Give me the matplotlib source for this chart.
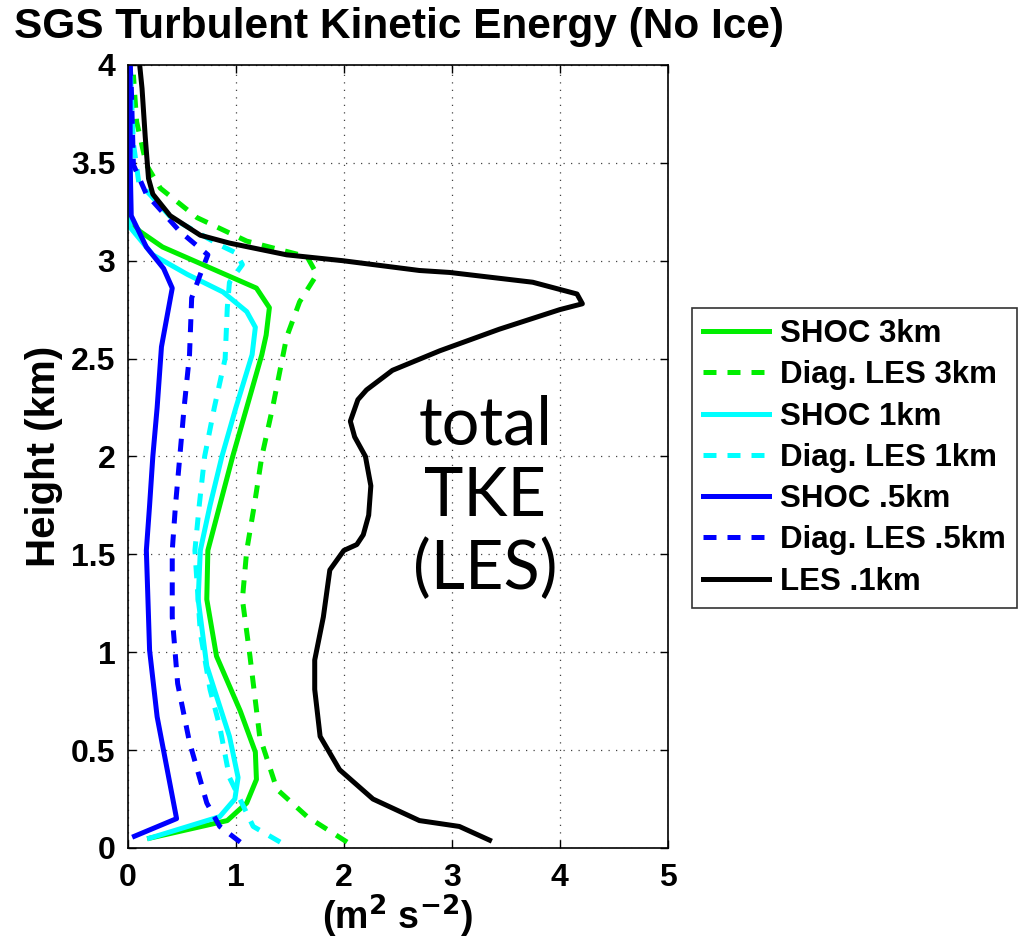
import matplotlib
matplotlib.use("Agg")
import matplotlib.pyplot as plt

# ---- data (x: TKE m^2 s^-2, y: height km) ----
les_x = [3.35, 3.07, 2.70, 2.27, 1.96, 1.78, 1.73, 1.73, 1.81, 1.87, 2.00, 2.12, 2.18, 2.23, 2.25, 2.20, 2.10, 2.06,
         2.13, 2.21, 2.45, 2.89, 3.44, 4.00, 4.21, 4.16, 3.75, 2.98, 2.70, 1.99, 1.47, 0.94, 0.67, 0.39, 0.23, 0.19,
         0.16, 0.13, 0.11]
les_y = [0.04, 0.11, 0.14, 0.25, 0.40, 0.57, 0.81, 0.96, 1.18, 1.42, 1.52, 1.55, 1.60, 1.70, 1.85, 2.00, 2.10, 2.18,
         2.29, 2.34, 2.44, 2.54, 2.65, 2.75, 2.78, 2.83, 2.89, 2.94, 2.95, 3.00, 3.03, 3.09, 3.13, 3.23, 3.34, 3.42,
         3.63, 3.88, 3.99]

shoc3_x = [0.20, 0.92, 1.10, 1.19, 1.18, 1.04, 0.82, 0.73, 0.74, 0.85, 0.97, 1.10, 1.24, 1.28, 1.31, 1.19, 0.32,
           0.11, 0.02, 0.01]
shoc3_y = [0.05, 0.14, 0.23, 0.35, 0.49, 0.70, 0.98, 1.27, 1.52, 1.75, 2.00, 2.25, 2.52, 2.62, 2.76, 2.86, 3.07,
           3.15, 3.20, 3.30]

diag3_x = [2.03, 1.66, 1.38, 1.22, 1.13, 1.06, 1.10, 1.17, 1.24, 1.34, 1.43, 1.47, 1.59, 1.75, 1.66, 1.10, 0.64,
           0.30, 0.17, 0.08, 0.05]
diag3_y = [0.03, 0.16, 0.30, 0.57, 0.98, 1.27, 1.52, 1.75, 2.00, 2.25, 2.50, 2.61, 2.79, 2.93, 3.02, 3.10, 3.22,
           3.37, 3.49, 3.71, 3.95]

shoc1_x = [0.20, 0.85, 0.99, 1.02, 0.94, 0.73, 0.65, 0.67, 0.76, 0.87, 1.00, 1.15, 1.18, 1.10, 0.88, 0.55, 0.23,
           0.02, 0.02, 0.01]
shoc1_y = [0.05, 0.16, 0.25, 0.36, 0.57, 0.93, 1.27, 1.52, 1.75, 2.00, 2.25, 2.52, 2.66, 2.74, 2.84, 2.93, 3.03,
           3.17, 3.40, 4.00]

diag1_x = [1.41, 1.16, 0.94, 0.85, 0.76, 0.67, 0.64, 0.62, 0.66, 0.71, 0.80, 0.90, 0.92, 0.94, 1.06, 1.00, 0.85,
           0.40, 0.10, 0.05, 0.02]
diag1_y = [0.03, 0.11, 0.36, 0.62, 0.81, 1.10, 1.35, 1.52, 1.75, 2.00, 2.25, 2.50, 2.76, 2.89, 2.98, 3.04, 3.08,
           3.22, 3.40, 3.60, 4.00]

shoc05_x = [0.06, 0.45, 0.27, 0.20, 0.17, 0.20, 0.23, 0.27, 0.31, 0.41, 0.33, 0.17, 0.03, 0.02, 0.02]
shoc05_y = [0.06, 0.15, 0.67, 1.01, 1.52, 1.75, 2.00, 2.25, 2.56, 2.86, 2.96, 3.07, 3.23, 3.50, 4.00]

diag05_x = [1.04, 0.85, 0.73, 0.57, 0.46, 0.41, 0.41, 0.44, 0.48, 0.52, 0.57, 0.59, 0.67, 0.74, 0.48, 0.17, 0.05,
            0.03, 0.02]
diag05_y = [0.03, 0.11, 0.23, 0.54, 0.84, 1.18, 1.52, 1.75, 2.00, 2.25, 2.52, 2.81, 2.93, 3.03, 3.15, 3.34, 3.49,
            3.90, 4.00]

labels = ["SHOC 3km", "Diag. LES 3km", "SHOC 1km", "Diag. LES 1km", "SHOC .5km", "Diag. LES .5km", "LES .1km"]
xticks = [0, 1, 2, 3, 4, 5]
yticks = [0, 0.5, 1, 1.5, 2, 2.5, 3, 3.5, 4]
ytick_labels = ["0", "0.5", "1", "1.5", "2", "2.5", "3", "3.5", "4"]

plt.rcParams['font.family'] = ['Liberation Sans', 'DejaVu Sans']

fig = plt.figure(figsize=(10.24, 9.48), dpi=100)
ax = fig.add_axes([0.125, 0.1055, 0.527, 0.826])

lw = 3.6
dash = (2.6, 2.2)
green = '#00ee00'
cyan = '#00ffff'
blue = '#0000ff'

ax.plot(shoc3_x, shoc3_y, color=green, lw=lw, label=labels[0])
ax.plot(diag3_x, diag3_y, color=green, lw=lw, ls='--', dashes=dash, label=labels[1])
ax.plot(shoc1_x, shoc1_y, color=cyan, lw=lw, label=labels[2])
ax.plot(diag1_x, diag1_y, color=cyan, lw=lw, ls='--', dashes=dash, label=labels[3])
ax.plot(shoc05_x, shoc05_y, color=blue, lw=lw, label=labels[4])
ax.plot(diag05_x, diag05_y, color=blue, lw=lw, ls='--', dashes=dash, label=labels[5])
ax.plot(les_x, les_y, color='black', lw=lw, label=labels[6])

ax.set_xlim(0, 5)
ax.set_ylim(0, 4)
ax.set_xticks(xticks)
ax.set_xticklabels([str(t) for t in xticks], fontsize=23, fontweight='bold')
ax.set_yticks(yticks)
ax.set_yticklabels(ytick_labels, fontsize=23, fontweight='bold')
ax.tick_params(axis='both', direction='in', length=6, width=1, top=True, right=True)
ax.tick_params(axis='y', pad=9)
ax.tick_params(axis='x', pad=11)
ax.grid(True, color='#444444', linestyle=(0, (1, 5)), linewidth=0.9)
for s in ax.spines.values():
    s.set_linewidth(1.2)

ax.set_ylabel("Height (km)", fontsize=29, fontweight='bold', labelpad=6)
ax.set_xlabel(r"(m$^\mathbf{2}$ s$^\mathbf{-2}$)", fontsize=27, fontweight='bold', labelpad=0)

fig.text(0.014, 0.972, "SGS Turbulent Kinetic Energy (No Ice)", fontsize=30.5, fontweight='bold',
         ha='left', va='center')

ax.text(3.31, 1.79, "total\nTKE\n(LES)", fontsize=48, family=['Lato', 'DejaVu Sans'],
        ha='center', va='center', linespacing=1.2)

leg = fig.legend(loc='center left', bbox_to_anchor=(0.676, 0.517), frameon=True, fancybox=False,
                 edgecolor='black', prop={'size': 22.5, 'weight': 'bold'}, handlelength=2.1,
                 borderpad=0.35, labelspacing=0.36, handletextpad=0.35, borderaxespad=0)
leg.get_frame().set_linewidth(1.2)

fig.savefig("out.png", dpi=100)
